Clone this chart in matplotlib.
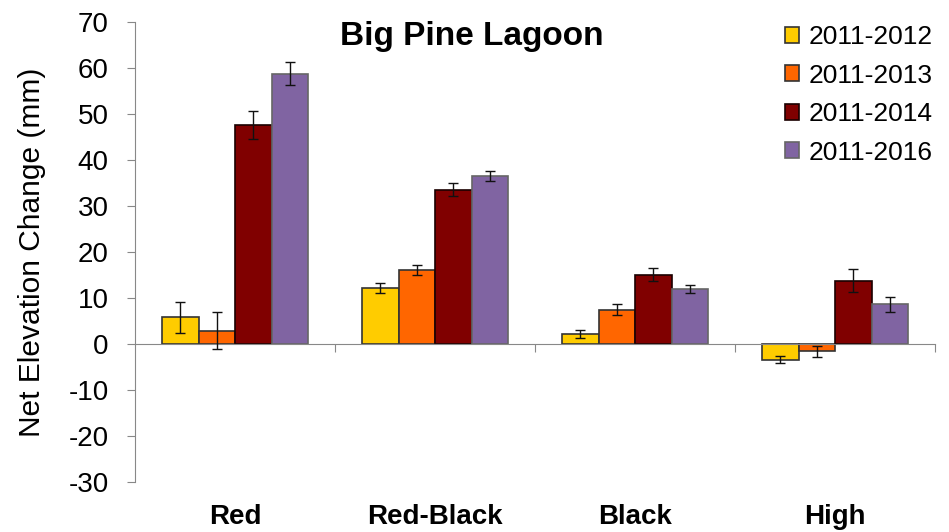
import numpy as np
import matplotlib
matplotlib.use('Agg')
import matplotlib.pyplot as plt
import matplotlib.transforms as mtransforms

plt.rcParams['font.family'] = ['Liberation Sans', 'DejaVu Sans']
plt.rcParams['axes.unicode_minus'] = False

sites = ['Red', 'Red-Black', 'Black', 'High']
periods = ['2011-2012', '2011-2013', '2011-2014', '2011-2016']
colors = ['#FFCC00', '#FF6600', '#800000', '#8064A2']
edges = ['#333333', '#333333', '#1a0000', '#666666']

# mean net elevation change (mm) per period, one value per site
means = [
    [5.8, 12.2, 2.2, -3.4],
    [2.9, 16.1, 7.5, -1.6],
    [47.6, 33.5, 15.1, 13.8],
    [58.8, 36.5, 12.0, 8.6],
]
# standard errors
errs = [
    [3.3, 1.15, 0.8, 0.8],
    [4.0, 1.15, 1.2, 1.15],
    [3.0, 1.4, 1.35, 2.6],
    [2.6, 1.0, 0.9, 1.6],
]

fig = plt.figure(figsize=(9.49, 5.32), dpi=100)
ax = fig.add_axes([135/949, 50/532, 800/949, 460/532])

x = np.arange(len(sites))
w = 0.1825
for i, p in enumerate(periods):
    ax.bar(x + (i - 1.5) * w, means[i], w, color=colors[i], edgecolor=edges[i],
           linewidth=1.2, label=p, zorder=2)
    ax.errorbar(x + (i - 1.5) * w, means[i], yerr=errs[i], fmt='none',
                ecolor='#111111', elinewidth=1, capsize=3.5, capthick=1, zorder=3)

ax.set_xlim(-0.5, 3.5)
ax.set_ylim(-30, 70)
ax.set_yticks(np.arange(-30, 71, 10))
ax.tick_params(axis='y', labelsize=20, length=6, color='#888888', direction='out', pad=13)
ax.set_xticks(np.arange(0.5, 3.6, 1))
ax.set_xticklabels([])
ax.tick_params(axis='x', length=6, color='#888888', direction='out')

for s in ['top', 'right']:
    ax.spines[s].set_visible(False)
ax.spines['left'].set_color('#888888')
ax.spines['bottom'].set_color('#888888')
ax.spines['bottom'].set_position(('data', 0))

trans = mtransforms.blended_transform_factory(ax.transData, ax.transAxes)
for xi, s in zip(x, sites):
    ax.text(xi, -0.077, s, transform=trans, ha='center', va='center',
            fontsize=20, fontweight='bold')

ax.set_ylabel('Net Elevation Change (mm)', fontsize=21.5, labelpad=16)
ax.text(0.421, 0.968, 'Big Pine Lagoon', transform=ax.transAxes, ha='center', va='center',
        fontsize=24, fontweight='bold')

leg = ax.legend(loc='upper right', bbox_to_anchor=(1.01, 1.016), frameon=False,
                fontsize=19, handlelength=0.55, handleheight=0.55, handletextpad=0.35,
                labelspacing=0.55, borderaxespad=0)

fig.savefig('out.png', dpi=100)
